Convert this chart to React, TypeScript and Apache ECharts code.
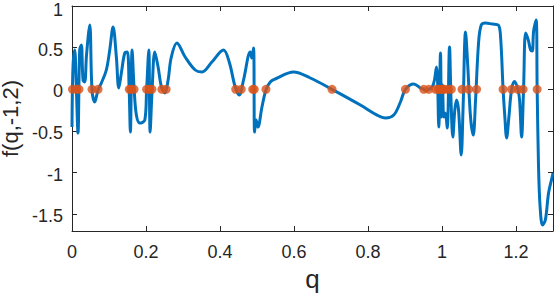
import React, { useEffect, useRef } from "react";
import * as echarts from "echarts";

// q values of the traced curve
const qValues = [
  0.0, 0.0027, 0.0073, 0.0116, 0.0162, 0.0208, 0.0252, 0.0298, 0.0344, 0.0392,
  0.0479, 0.0541, 0.0614, 0.0704, 0.0793, 0.0928, 0.102, 0.111, 0.1199, 0.1264,
  0.1334, 0.1426, 0.1496, 0.1543, 0.1578, 0.1624, 0.1678, 0.174, 0.1832, 0.1968,
  0.2016, 0.2076, 0.2111, 0.2165, 0.2238, 0.2327, 0.2417, 0.2509, 0.2598, 0.2679,
  0.2834, 0.3058, 0.3329, 0.351, 0.3781, 0.4095, 0.4249, 0.4411, 0.452, 0.4636,
  0.4817, 0.4858, 0.4907, 0.4934, 0.4975, 0.5026, 0.5134, 0.5242, 0.5359, 0.5494,
  0.5989, 0.6441, 0.7028, 0.7794, 0.8246, 0.8471, 0.8696, 0.8877, 0.9012, 0.9237,
  0.9418, 0.9508, 0.9581, 0.9643, 0.9735, 0.9797, 0.9851, 0.9878, 0.9913, 0.9959,
  0.9986, 1.0014, 1.0049, 1.009, 1.0141, 1.0203, 1.0244, 1.0292, 1.0346, 1.0392,
  1.0447, 1.052, 1.0568, 1.0636, 1.0698, 1.0771, 1.0844, 1.0907, 1.0988, 1.1061,
  1.1177, 1.1359, 1.1521, 1.1583, 1.1651, 1.1699, 1.1746, 1.1808, 1.1881, 1.1962,
  1.2051, 1.2097, 1.2151, 1.2206, 1.226, 1.2333, 1.2395, 1.2441, 1.2476, 1.2544,
  1.2571, 1.2609, 1.2652, 1.2717, 1.2793, 1.288, 1.297, 1.3,
];

// f(q,-1,2) values of the traced curve
const fValues = [
  -0.453, 0.268, 0.472, 0.028, -0.525, 0.472, 0.532, 0.112, 0.088, 0.41,
  0.772, -0.008, -0.152, -0.008, 0.076, 0.232, 0.472, 0.748, 0.388, 0.016,
  0.196, 0.436, 0.448, 0.028, -0.513, 0.472, 0.016, -0.309, -0.405, -0.369,
  -0.008, 0.472, -0.513, -0.008, 0.448, 0.268, 0.028, -0.044, 0.112, 0.376,
  0.556, 0.388, 0.232, 0.208, 0.328, 0.472, 0.328, 0.028, -0.068, 0.112,
  0.448, 0.376, 0.496, -0.513, -0.369, -0.453, -0.212, -0.008, 0.088, 0.124,
  0.208, 0.136, 0.0, -0.188, -0.309, -0.345, -0.309, -0.152, 0.0, 0.064,
  0.016, 0.0, -0.02, 0.0, 0.028, 0.112, 0.268, 0.136, -0.453, 0.436,
  -0.333, 0.052, -0.333, -0.285, -0.465, 0.508, -0.128, -0.573, -0.248, -0.128,
  -0.248, -0.789, -0.248, 0.688, 0.268, -0.333, -0.549, -0.128, 0.556, 0.772,
  0.796, 0.784, 0.772, 0.628, 0.0, -0.333, -0.585, -0.333, 0.0, 0.095,
  0.0, -0.128, -0.573, 0.028, 0.676, 0.59, 0.472, 0.46, 0.7, 0.832,
  0.028, -0.933, -1.413, -1.629, -1.569, -1.245, -1.065, -1.005,
];

// zeros of f(q,-1,2)
const zeroQ = [
  0.0014, 0.0122, 0.0189, 0.0541, 0.0704, 0.1548, 0.1597, 0.1678, 0.2016, 0.2089,
  0.216, 0.243, 0.2544, 0.4425, 0.4574, 0.4885, 0.4926, 0.5242, 0.7028, 0.9012,
  0.9508, 0.9643, 0.9824, 0.99, 0.9946, 1.0, 1.0027, 1.0068, 1.017, 1.0252,
  1.0541, 1.0717, 1.0934, 1.1651, 1.1881, 1.2051, 1.2192, 1.2571,
];

const xTicks = [0, 0.2, 0.4, 0.6, 0.8, 1, 1.2];
const yTicks = [-1.5, -1, -0.5, 0, 0.5, 1];

export default function App() {
  const ref = useRef<HTMLDivElement>(null);
  useEffect(() => {
    if (!ref.current) return;
    const chart = echarts.init(ref.current, null, { renderer: "svg" });
    const axisColor = "#262626";
    const font = "'Liberation Sans', Helvetica, Arial, sans-serif";
    const baseX = {
      type: "value" as const,
      min: 0,
      max: 1.3,
      splitLine: { show: false },
      axisLine: { show: true, onZero: false, lineStyle: { color: axisColor, width: 1 } },
      axisTick: { show: true, inside: true, length: 5, customValues: xTicks, lineStyle: { color: axisColor } },
    };
    const baseY = {
      type: "value" as const,
      min: -1.7,
      max: 1,
      splitLine: { show: false },
      axisLine: { show: true, onZero: false, lineStyle: { color: axisColor, width: 1 } },
      axisTick: { show: true, inside: true, length: 5, customValues: yTicks, lineStyle: { color: axisColor } },
    };
    const labelRich = {
      n: { color: axisColor, fontSize: 18, fontFamily: font, padding: [4, 0, 0, 0] },
      t: { color: axisColor, fontSize: 18, fontFamily: font, padding: [8, 0, 0, 0] },
    };
    chart.setOption({
      animation: false,
      grid: { left: 72, right: 1, top: 6, bottom: 63, containLabel: false, outerBoundsMode: "none" },
      xAxis: [
        {
          ...baseX,
          position: "bottom",
          name: "q",
          nameLocation: "middle",
          nameGap: 33,
          nameTextStyle: { color: axisColor, fontSize: 26, fontFamily: font },
          axisLabel: {
            show: true,
            customValues: xTicks,
            margin: 12,
            color: axisColor,
            fontSize: 18,
            fontFamily: font,
            formatter: (v: number) => String(v),
          },
        },
        { ...baseX, position: "top", axisLabel: { show: false } },
      ],
      yAxis: [
        {
          ...baseY,
          position: "left",
          name: "f(q,-1,2)",
          nameLocation: "middle",
          nameGap: 42,
          nameTextStyle: { color: axisColor, fontSize: 22, fontFamily: font },
          axisLabel: {
            show: true,
            customValues: yTicks,
            margin: 9,
            color: axisColor,
            fontSize: 18,
            fontFamily: font,
            formatter: (v: number) => (v === 1 ? "{t|" + String(v) + "}" : "{n|" + String(v) + "}"),
            rich: labelRich,
          },
        },
        { ...baseY, position: "right", axisLabel: { show: false } },
      ],
      series: [
        {
          type: "line",
          data: qValues.map((q, i) => [q, fValues[i]]),
          smooth: 0.35,
          showSymbol: false,
          symbol: "none",
          clip: true,
          lineStyle: { color: "#0072BD", width: 3 },
          z: 2,
        },
        {
          type: "scatter",
          data: zeroQ.map((q) => [q, 0]),
          symbol: "circle",
          symbolSize: 9,
          itemStyle: { color: "#D95319" },
          z: 3,
        },
      ],
    });
    return () => chart.dispose();
  }, []);
  return <div ref={ref} style={{ width: 554, height: 294, position: "absolute", left: 0, top: 0 }} />;
}
